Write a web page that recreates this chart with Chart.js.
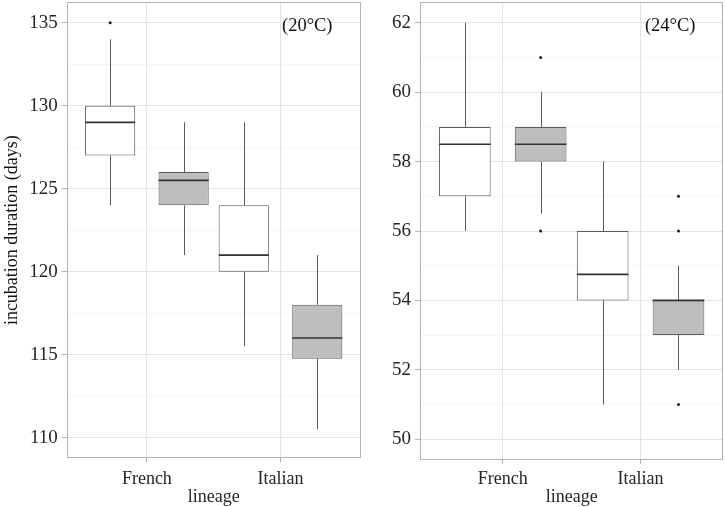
<!DOCTYPE html>
<html><head><meta charset="utf-8">
<script src="https://cdn.jsdelivr.net/npm/chart.js@4/dist/chart.umd.min.js"></script>
<style>
html,body{margin:0;padding:0;background:#fff;}
#wrap{position:relative;width:725px;height:507px;overflow:hidden;}
canvas{position:absolute;top:0;}
</style></head><body>
<div id="wrap">
<canvas id="c20" width="365" height="507" style="left:0px"></canvas>
<canvas id="c24" width="360" height="507" style="left:365px"></canvas>
</div>
<script>
// ---------- data ----------
const categories = ['French', 'Italian'];
const seriesNames = ['open boxes', 'grey boxes'];

// 20 °C panel
const t20OpenLow  = [124, 115.5];
const t20OpenQ1   = [127, 120];
const t20OpenMed  = [129, 121];
const t20OpenQ3   = [130, 124];
const t20OpenHigh = [134, 129];
const t20OpenOut  = [[135], []];

const t20GreyLow  = [121, 110.5];
const t20GreyQ1   = [124, 114.75];
const t20GreyMed  = [125.5, 116];
const t20GreyQ3   = [126, 118];
const t20GreyHigh = [129, 121];
const t20GreyOut  = [[], []];

const yTicks20 = [110, 115, 120, 125, 130, 135];

// 24 °C panel
const t24OpenLow  = [56, 51];
const t24OpenQ1   = [57, 54];
const t24OpenMed  = [58.5, 54.75];
const t24OpenQ3   = [59, 56];
const t24OpenHigh = [62, 58];
const t24OpenOut  = [[], []];

const t24GreyLow  = [56.5, 52];
const t24GreyQ1   = [58, 53];
const t24GreyMed  = [58.5, 54];
const t24GreyQ3   = [59, 54];
const t24GreyHigh = [60, 55];
const t24GreyOut  = [[61, 56], [57, 56, 51]];

const yTicks24 = [50, 52, 54, 56, 58, 60, 62];

// ---------- styling ----------
const FONT = 'Liberation Serif, Times New Roman, serif';
const TXT = '#262626';
const GRID_MAJOR = '#E4E4E4';
const GRID_MINOR = '#F2F2F2';
const BORDER = '#B3B3B3';
const EDGE = '#5a5a5a';

function makeDataset(name, fill, low, q1, med, q3, high, out) {
  return {
    label: name,
    data: categories.map((c, i) => ({ x: i + 1, y: [q1[i], q3[i]] })),
    backgroundColor: fill,
    borderColor: EDGE,
    borderWidth: 1,
    borderSkipped: false,
    inflateAmount: 0,
    categoryPercentage: 1.1,
    barPercentage: 0.682,
    low, q1, med, q3, high, out
  };
}

const boxExtras = {
  id: 'boxExtras',
  beforeDatasetsDraw(chart) {
    const ctx = chart.ctx, ys = chart.scales.y;
    chart.data.datasets.forEach((ds, di) => {
      const meta = chart.getDatasetMeta(di);
      meta.data.forEach((el, i) => {
        const x = Math.round(el.x) + 0.5;
        ctx.save();
        ctx.strokeStyle = EDGE;
        ctx.lineWidth = 1;
        ctx.beginPath();
        ctx.moveTo(x, ys.getPixelForValue(ds.high[i]));
        ctx.lineTo(x, ys.getPixelForValue(ds.q3[i]));
        ctx.moveTo(x, ys.getPixelForValue(ds.q1[i]));
        ctx.lineTo(x, ys.getPixelForValue(ds.low[i]));
        ctx.stroke();
        ctx.restore();
      });
    });
  },
  afterDatasetsDraw(chart, args, opts) {
    const ctx = chart.ctx, ys = chart.scales.y, xs = chart.scales.x;
    chart.data.datasets.forEach((ds, di) => {
      const meta = chart.getDatasetMeta(di);
      meta.data.forEach((el, i) => {
        const half = el.width / 2;
        const my = ys.getPixelForValue(ds.med[i]);
        ctx.save();
        ctx.strokeStyle = '#333333';
        ctx.lineWidth = 1.7;
        ctx.beginPath();
        ctx.moveTo(el.x - half, my);
        ctx.lineTo(el.x + half, my);
        ctx.stroke();
        ctx.fillStyle = '#1a1a1a';
        ds.out[i].forEach(v => {
          ctx.beginPath();
          ctx.arc(el.x, ys.getPixelForValue(v), 1.5, 0, Math.PI * 2);
          ctx.fill();
        });
        ctx.restore();
      });
    });
    // panel border
    const a = chart.chartArea;
    ctx.save();
    ctx.strokeStyle = BORDER;
    ctx.lineWidth = 1;
    ctx.strokeRect(Math.round(a.left) + 0.5, Math.round(a.top) + 0.5,
                   Math.round(a.right - a.left) - 1, Math.round(a.bottom - a.top) - 1);
    // annotation
    ctx.fillStyle = '#111';
    ctx.font = '18.5px ' + FONT;
    ctx.textAlign = 'center';
    ctx.textBaseline = 'middle';
    ctx.fillText(opts.text, xs.getPixelForValue(opts.x), ys.getPixelForValue(opts.y) + 3);
    ctx.restore();
  }
};

function makeChart(id, datasets, yTicks, yMin, yMax, cfg) {
  const step = yTicks[1] - yTicks[0];
  const allTicks = [];
  yTicks.forEach((v, k) => { allTicks.push(v); if (k < yTicks.length - 1) allTicks.push(v + step / 2); });
  const isMajor = v => yTicks.includes(v);
  return new Chart(document.getElementById(id), {
    type: 'bar',
    data: { datasets },
    options: {
      responsive: false,
      animation: false,
      devicePixelRatio: 1,
      layout: { padding: { left: 0, right: cfg.padRight, top: 2, bottom: 0 } },
      plugins: {
        legend: { display: false },
        tooltip: { enabled: false },
        boxExtras: cfg.annot
      },
      scales: {
        x: {
          type: 'linear',
          min: 0.4, max: 2.6,
          offset: false,
          afterBuildTicks: s => { s.ticks = categories.map((c, i) => ({ value: i + 1 })); },
          afterFit: s => { s.height = cfg.xHeight; s.paddingLeft = 0; s.paddingRight = 0; },
          ticks: {
            callback: v => categories[v - 1],
            autoSkip: false, maxRotation: 0,
            font: { family: FONT, size: 18 }, color: TXT, padding: cfg.xPad
          },
          grid: { color: GRID_MAJOR, lineWidth: 1, tickColor: BORDER, tickLength: 4, offset: false },
          border: { display: false },
          title: { display: true, text: 'lineage', font: { family: FONT, size: 18 }, color: TXT, padding: { top: 0, bottom: -1 } }
        },
        y: {
          type: 'linear',
          min: yMin, max: yMax,
          stacked: false,
          afterBuildTicks: s => { s.ticks = allTicks.map(v => ({ value: v })); },
          afterFit: s => { s.width = cfg.yWidth; s.paddingTop = 0; s.paddingBottom = 0; },
          ticks: {
            callback: v => isMajor(v) ? String(v) : '',
            autoSkip: false,
            font: { family: FONT, size: 19 }, color: TXT, padding: 4
          },
          grid: {
            color: c => isMajor(c.tick.value) ? GRID_MAJOR : GRID_MINOR,
            lineWidth: c => isMajor(c.tick.value) ? 1 : 0.7,
            tickColor: c => isMajor(c.tick.value) ? BORDER : 'rgba(0,0,0,0)',
            tickLength: 5
          },
          border: { display: false },
          title: cfg.yTitle
        }
      }
    },
    plugins: [boxExtras]
  });
}

makeChart('c20', [
  makeDataset(seriesNames[0], '#ffffff', t20OpenLow, t20OpenQ1, t20OpenMed, t20OpenQ3, t20OpenHigh, t20OpenOut),
  makeDataset(seriesNames[1], '#bebebe', t20GreyLow, t20GreyQ1, t20GreyMed, t20GreyQ3, t20GreyHigh, t20GreyOut)
], yTicks20, 108.75, 136.25, {
  padRight: 4.3, xHeight: 48.7, yWidth: 66.7, xPad: 6,
  annot: { text: '(20°C)', x: 2.2, y: 135 },
  yTitle: { display: true, text: 'incubation duration (days)', font: { family: FONT, size: 18 }, color: '#111', padding: { top: 1, bottom: 0 } }
});

makeChart('c24', [
  makeDataset(seriesNames[0], '#ffffff', t24OpenLow, t24OpenQ1, t24OpenMed, t24OpenQ3, t24OpenHigh, t24OpenOut),
  makeDataset(seriesNames[1], '#bebebe', t24GreyLow, t24GreyQ1, t24GreyMed, t24GreyQ3, t24GreyHigh, t24GreyOut)
], yTicks24, 49.4, 62.6, {
  padRight: 1.7, xHeight: 47, yWidth: 55, xPad: 4,
  annot: { text: '(24°C)', x: 2.215, y: 62 },
  yTitle: { display: false }
});
</script>
</body></html>
